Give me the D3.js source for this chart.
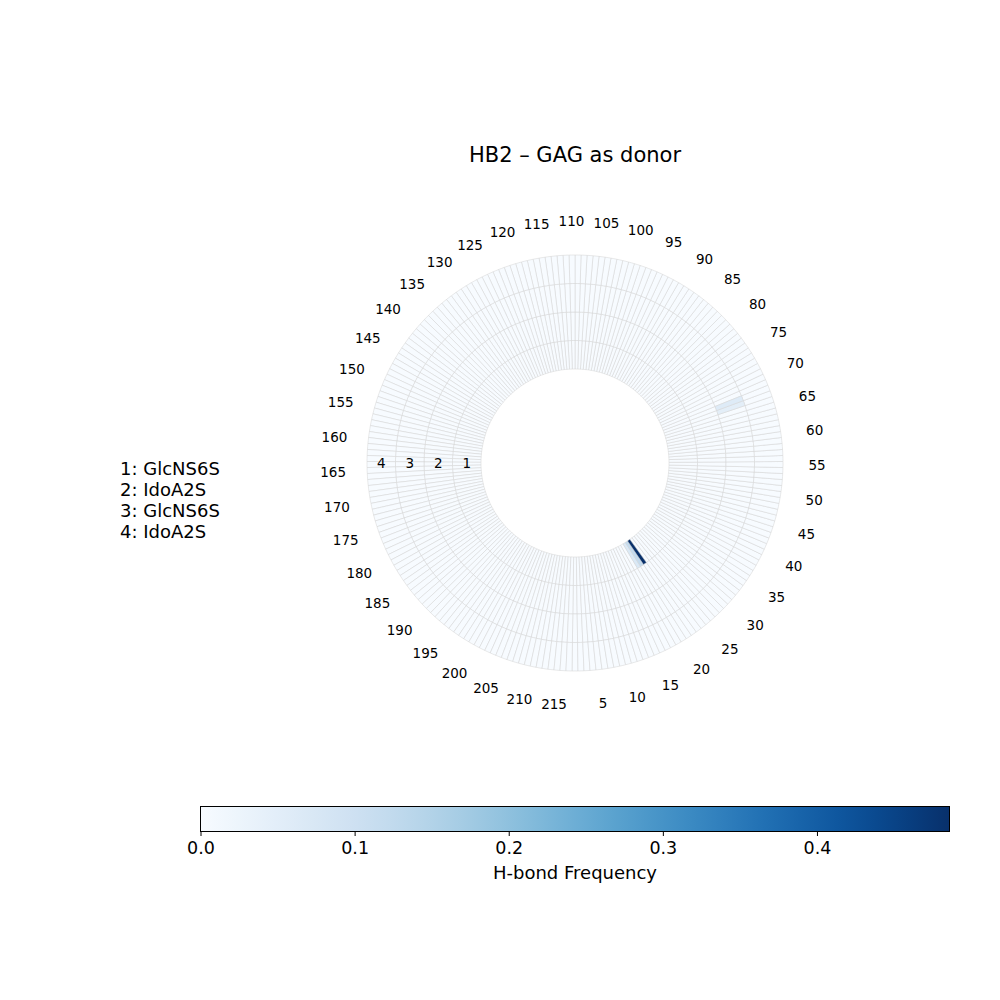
<!DOCTYPE html>
<html><head><meta charset="utf-8">
<script src="https://cdn.jsdelivr.net/npm/d3@7"></script>
<style>body{margin:0;background:#fff;} svg{display:block;font-family:"DejaVu Sans",sans-serif;}</style>
</head><body>
<svg id="chart" width="1000" height="1000"></svg>
<script>
// ---- data ----
const nResidues = 217;
const rings = [1, 2, 3, 4];
const ringNames = ["GlcNS6S", "IdoA2S", "GlcNS6S", "IdoA2S"];
// nonzero H-bond frequencies per ring: [residue, value]; all other cells are 0
const ring1Values = [[20, 0.07], [21, 0.12], [22, 0.486]];
const ring2Values = [];
const ring3Values = [[67, 0.05], [68, 0.06]];
const ring4Values = [];
const tickResidues = d3.range(5, 216, 5);
const colorTicks = [0.0, 0.1, 0.2, 0.3, 0.4];
const vmax = 0.486;
const title = "HB2 \u2013 GAG as donor";
const cbarLabel = "H-bond Frequency";

// ---- layout ----
const svg = d3.select("#chart");
const cx = 575, cy = 463;
const rScale = d3.scaleLinear().domain([0, 4]).range([94, 208]);
const step = 2 * Math.PI / nResidues;
// residue -> d3 arc angle (clockwise from 12 o'clock); residue 1 at bottom, counterclockwise
const aScale = d3.scaleLinear().domain([1, nResidues + 1]).range([Math.PI, Math.PI - 2 * Math.PI]);
const color = d3.scaleSequential(d3.interpolateBlues).domain([0, vmax]);

const allVals = [ring1Values, ring2Values, ring3Values, ring4Values].map(list => {
  const arr = new Array(nResidues + 1).fill(0);
  list.forEach(([res, v]) => arr[res] = v);
  return arr;
});

const cells = [];
rings.forEach((ring, ri) => {
  for (let res = 1; res <= nResidues; res++) cells.push({ ring, ri, res, v: allVals[ri][res] });
});

const arc = d3.arc()
  .innerRadius(d => rScale(d.ri))
  .outerRadius(d => rScale(d.ri + 1))
  .startAngle(d => aScale(d.res) + step / 2)
  .endAngle(d => aScale(d.res) - step / 2);

const g = svg.append("g").attr("transform", `translate(${cx},${cy})`);
cells.sort((a, b) => a.v - b.v);
g.selectAll("path.cell").data(cells).enter().append("path")
  .attr("class", "cell")
  .attr("d", arc)
  .attr("fill", d => color(d.v))
  .attr("stroke", "#d3d3d3")
  .attr("stroke-width", 0.5);

// ring numbers
g.selectAll("text.ring").data(rings).enter().append("text")
  .attr("x", (d, i) => -(rScale(i) + rScale(i + 1)) / 2)
  .attr("y", 0)
  .attr("text-anchor", "middle").attr("dominant-baseline", "central")
  .attr("font-size", 13.5).attr("fill", "#000")
  .text(d => d);

// residue tick labels
const rLab = 242;
g.selectAll("text.tick").data(tickResidues).enter().append("text")
  .attr("x", d => rLab * Math.sin(aScale(d)))
  .attr("y", d => -rLab * Math.cos(aScale(d)))
  .attr("text-anchor", "middle").attr("dominant-baseline", "central")
  .attr("font-size", 13.5).attr("fill", "#000")
  .text(d => d);

// title
svg.append("text").attr("x", 575).attr("y", 155)
  .attr("text-anchor", "middle").attr("dominant-baseline", "central")
  .attr("font-size", 21).text(title);

// legend of ring names
svg.selectAll("text.leg").data(ringNames).enter().append("text")
  .attr("x", 120).attr("y", (d, i) => 468 + i * 21)
  .attr("dominant-baseline", "central")
  .attr("font-size", 18)
  .text((d, i) => `${rings[i]}: ${d}`);

// colorbar
const cbX = d3.scaleLinear().domain([0, vmax]).range([200.5, 949.5]);
const defs = svg.append("defs");
const grad = defs.append("linearGradient").attr("id", "cb").attr("x1", "0%").attr("x2", "100%");
d3.range(0, 1.0001, 0.05).forEach(t => grad.append("stop").attr("offset", `${t * 100}%`).attr("stop-color", d3.interpolateBlues(t)));
const cbY = 806.5, cbH = 25;
svg.append("rect").attr("x", cbX(0)).attr("y", cbY).attr("width", cbX(vmax) - cbX(0)).attr("height", cbH)
  .attr("fill", "url(#cb)").attr("stroke", "#000").attr("stroke-width", 1);
const axis = d3.axisBottom(cbX).tickValues(colorTicks).tickFormat(d3.format(".1f")).tickSize(4.5).tickPadding(6);
const ax = svg.append("g").attr("transform", `translate(0,${cbY + cbH})`).call(axis);
ax.select(".domain").remove();
ax.selectAll("text").attr("font-size", 17.5).attr("font-family", "DejaVu Sans").attr("fill", "#000");
ax.selectAll("line").attr("stroke", "#000").attr("stroke-width", 1);
svg.append("text").attr("x", 575).attr("y", 872).attr("text-anchor", "middle").attr("dominant-baseline", "central")
  .attr("font-size", 18).text(cbarLabel);
</script>
</body></html>
